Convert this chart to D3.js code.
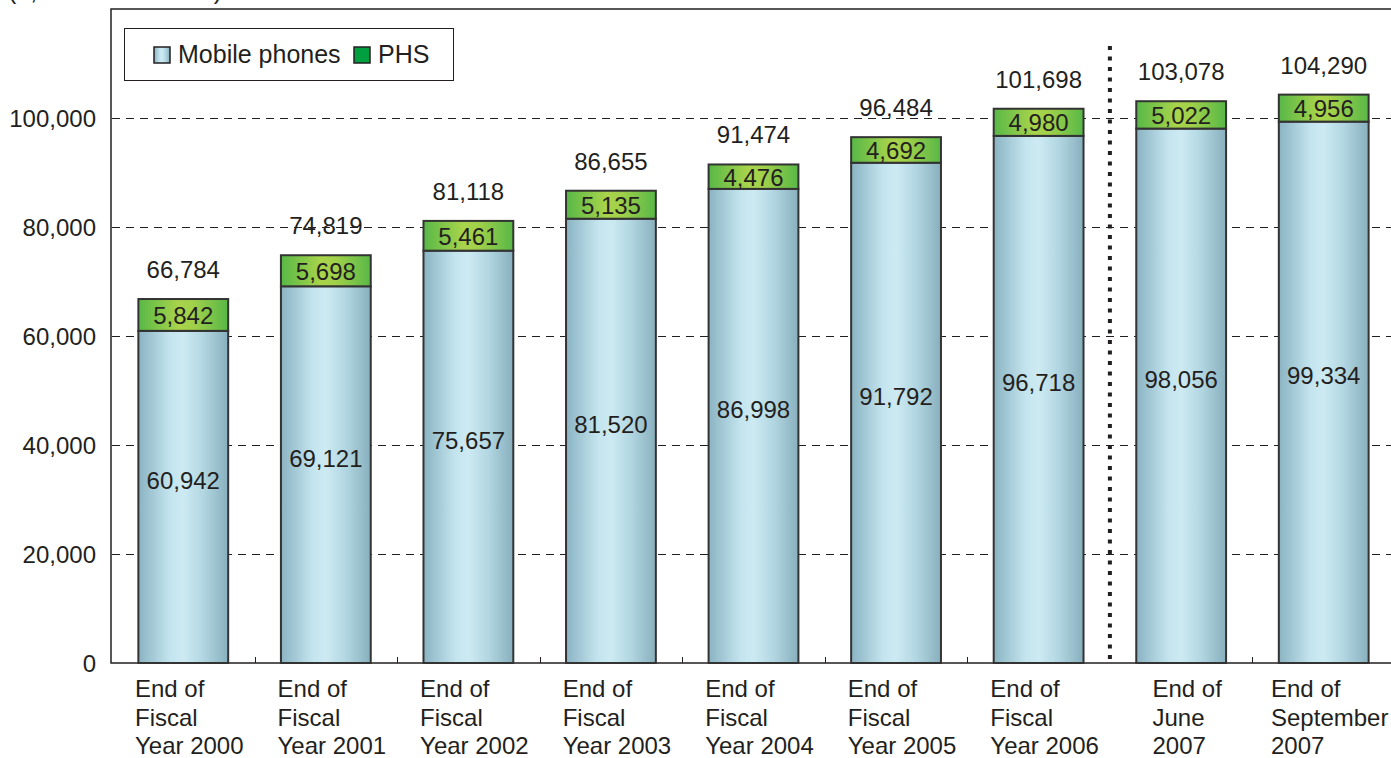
<!DOCTYPE html>
<html>
<head>
<meta charset="utf-8">
<script src="https://cdn.jsdelivr.net/npm/d3@7"></script>
<style>
  body { margin: 0; background: #fff; }
  svg { display: block; font-family: "Liberation Sans", Arial, sans-serif; }
</style>
</head>
<body>
<div id="chart"></div>
<script>
// data
const categories = [
  ["End of", "Fiscal", "Year 2000"],
  ["End of", "Fiscal", "Year 2001"],
  ["End of", "Fiscal", "Year 2002"],
  ["End of", "Fiscal", "Year 2003"],
  ["End of", "Fiscal", "Year 2004"],
  ["End of", "Fiscal", "Year 2005"],
  ["End of", "Fiscal", "Year 2006"],
  ["End of", "June", "2007"],
  ["End of", "September", "2007"]
];
const mobile = [60942, 69121, 75657, 81520, 86998, 91792, 96718, 98056, 99334];
const phs = [5842, 5698, 5461, 5135, 4476, 4692, 4980, 5022, 4956];
const totals = [66784, 74819, 81118, 86655, 91474, 96484, 101698, 103078, 104290];
const yTicks = [0, 20000, 40000, 60000, 80000, 100000];
const seriesNames = ["Mobile phones", "PHS"];
const unitLabel = "(1,000 subscribers)";

const W = 1391, H = 758;
const textColor = "#231f20";
const fmt = d3.format(",");

const svg = d3.select("#chart").append("svg")
  .attr("width", W).attr("height", H);

const defs = svg.append("defs");
const gradMobile = defs.append("linearGradient").attr("id", "gMobile")
  .attr("x1", "0%").attr("x2", "100%").attr("y1", "0%").attr("y2", "0%");
[[0, "#8ab3c2"], [0.35, "#c3e4ee"], [0.5, "#cdeaf2"], [0.72, "#b2d7e2"], [1, "#88afbd"]]
  .forEach(([o, c]) => gradMobile.append("stop").attr("offset", o).attr("stop-color", c));
const gradPhs = defs.append("linearGradient").attr("id", "gPhs")
  .attr("x1", "0%").attr("x2", "100%").attr("y1", "0%").attr("y2", "0%");
[[0, "#58b847"], [0.45, "#a9d44b"], [0.62, "#a0d04a"], [1, "#58b847"]]
  .forEach(([o, c]) => gradPhs.append("stop").attr("offset", o).attr("stop-color", c));

// scales
const x = d3.scaleBand()
  .domain(d3.range(categories.length))
  .range([112, 1395])
  .paddingInner(0.37)
  .paddingOuter(0.185);

const y = d3.scaleLinear()
  .domain([0, 120000])
  .range([663, 9]);

const crisp = v => Math.round(v) + 0.5;

// dashed gridlines
svg.append("g")
  .selectAll("line")
  .data(yTicks.filter(d => d > 0))
  .join("line")
  .attr("x1", 112).attr("x2", W)
  .attr("y1", d => crisp(y(d))).attr("y2", d => crisp(y(d)))
  .attr("stroke", textColor)
  .attr("stroke-width", 1)
  .attr("stroke-dasharray", "8,6");

// frame: left axis, top line, bottom axis
svg.append("path")
  .attr("d", `M${W},${y(120000)}H111V${y(0)}H${W}`)
  .attr("fill", "none")
  .attr("stroke", textColor)
  .attr("stroke-width", 1.5);

// small ticks on x axis between categories
svg.append("g")
  .selectAll("line")
  .data(d3.range(1, categories.length).filter(i => i !== 7))
  .join("line")
  .attr("x1", i => crisp(x(i) - x.step() * x.paddingInner() / 2))
  .attr("x2", i => crisp(x(i) - x.step() * x.paddingInner() / 2))
  .attr("y1", y(0)).attr("y2", y(0) - 6)
  .attr("stroke", textColor);

// y tick labels
svg.append("g")
  .selectAll("text")
  .data(yTicks)
  .join("text")
  .attr("x", 96)
  .attr("y", d => y(d) + 9)
  .attr("text-anchor", "end")
  .attr("fill", textColor)
  .style("font-size", "24px")
  .text(d => fmt(d));

// unit label, cut off at the top
svg.append("text")
  .attr("x", 8).attr("y", -1)
  .attr("fill", textColor)
  .style("font-size", "25px")
  .text(unitLabel);

// dotted separator before the 2007 quarters
const sepX = x(7) - x.step() * x.paddingInner() / 2;
svg.append("line")
  .attr("x1", sepX).attr("x2", sepX)
  .attr("y1", 46).attr("y2", y(0))
  .attr("stroke", textColor)
  .attr("stroke-width", 4)
  .attr("stroke-dasharray", "4,6.5");

// bars
const bars = svg.append("g").selectAll("g")
  .data(categories.map((c, i) => i))
  .join("g");

bars.append("rect")
  .attr("x", i => x(i))
  .attr("width", x.bandwidth())
  .attr("y", i => y(mobile[i]))
  .attr("height", i => y(0) - y(mobile[i]))
  .attr("fill", "url(#gMobile)")
  .attr("stroke", "#333")
  .attr("stroke-width", 2);

bars.append("rect")
  .attr("x", i => x(i))
  .attr("width", x.bandwidth())
  .attr("y", i => y(mobile[i] + phs[i]))
  .attr("height", i => y(mobile[i]) - y(mobile[i] + phs[i]))
  .attr("fill", "url(#gPhs)")
  .attr("stroke", "#333")
  .attr("stroke-width", 2);

// value labels
bars.append("text")
  .attr("x", i => x(i) + x.bandwidth() / 2)
  .attr("y", i => (y(mobile[i]) + y(0)) / 2 - 8)
  .attr("text-anchor", "middle")
  .attr("fill", textColor)
  .style("font-size", "24px")
  .text(i => fmt(mobile[i]));

bars.append("text")
  .attr("x", i => x(i) + x.bandwidth() / 2)
  .attr("y", i => (y(mobile[i]) + y(mobile[i] + phs[i])) / 2 + 9)
  .attr("text-anchor", "middle")
  .attr("fill", textColor)
  .style("font-size", "24px")
  .text(i => fmt(phs[i]));

bars.append("text")
  .attr("x", i => x(i) + x.bandwidth() / 2)
  .attr("y", i => y(totals[i]) - 21)
  .attr("text-anchor", "middle")
  .attr("fill", textColor)
  .style("font-size", "24px")
  .text(i => fmt(totals[i]));

// category labels: block of lines, left aligned, centred under the bar
bars.each(function(i) {
  const g = d3.select(this);
  const t = g.append("text")
    .attr("fill", textColor)
    .style("font-size", "24px");
  categories[i].forEach((line, k) => {
    t.append("tspan")
      .attr("y", 697 + k * 28.5)
      .text(line);
  });
  const w = d3.max(t.selectAll("tspan").nodes(), n => n.getComputedTextLength());
  const left = x(i) + x.bandwidth() / 2 - w / 2 + 6;
  t.selectAll("tspan").attr("x", left);
});

// legend
const legend = svg.append("g");
legend.append("rect")
  .attr("x", 124.5).attr("y", 28.5)
  .attr("width", 329).attr("height", 52)
  .attr("fill", "#fff")
  .attr("stroke", textColor)
  .attr("stroke-width", 1);

const swatchFill = ["url(#gMobile)", "#00a040"];
const legendX = [154, 354];
seriesNames.forEach((name, k) => {
  legend.append("rect")
    .attr("x", legendX[k]).attr("y", 47)
    .attr("width", 16).attr("height", 16)
    .attr("fill", swatchFill[k])
    .attr("stroke", textColor)
    .attr("stroke-width", 1.5);
  legend.append("text")
    .attr("x", legendX[k] + 24).attr("y", 63)
    .attr("fill", textColor)
    .style("font-size", "25px")
    .text(name);
});
</script>
</body>
</html>
